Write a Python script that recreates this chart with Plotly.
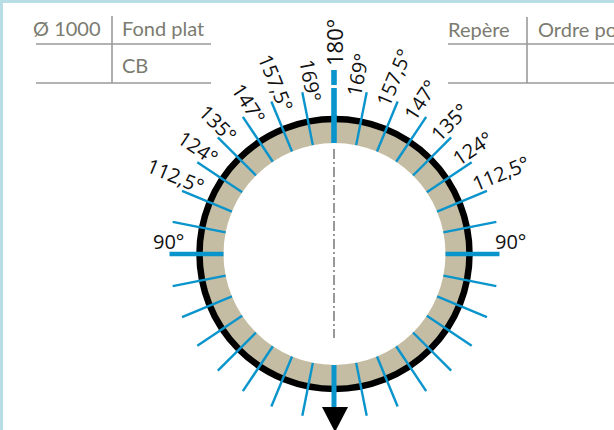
import math
import plotly.graph_objects as go

W, H = 614, 430
CX, CY = 334.5, 254
R_IN, R_RING, R_TICK = 111, 135, 165

tick_angles = [11.25 * i for i in range(1, 32) if i not in (8, 16, 24)]
major_angles = [90, 270]
top_segments = [(111, 166), (169, 184)]
bottom_segment = (111, 153)

right_labels = ["169°", "157,5°", "147°", "135°", "124°", "112,5°"]
right_pos = [(357, 75), (393, 78), (420, 100), (449, 122), (472, 148), (500, 173)]
left_pos = [(311, 80), (276, 82), (249, 103), (218, 123), (198, 147), (175, 175)]
label_rot = [79, 67.5, 57, 45, 34, 22.5]

table_text = [("Ø 1000", 67, 28), ("Fond plat", 163, 28), ("CB", 135, 65), ("Repère", 479, 29)]
table_text_clipped = [("Ordre pos", 536, 29)]
table_lines = [
    ((36, 211), (44, 44)), ((36, 211), (83, 83)), ((112, 112), (16, 83)),
    ((448, 614), (44, 44)), ((448, 614), (83, 83)), ((527, 527), (17, 83)),
]

BLUE = "#0a94cc"
fig = go.Figure()

def pol(a, r):
    t = math.radians(a)
    return CX + r * math.sin(t), CY - r * math.cos(t)

def seg(xs, ys, color, width, dash="solid"):
    fig.add_trace(go.Scatter(x=list(xs), y=list(ys), mode="lines", hoverinfo="skip",
                             line=dict(color=color, width=width, dash=dash)))

for xs, ys in table_lines:
    seg(xs, ys, "#9a9a9a", 1.6)

seg((CX - .5, CX - .5), (149, 338), "#555555", 1.2, "10px,3px,2px,3px")

for a in tick_angles:
    p, q = pol(a, R_IN), pol(a, R_TICK)
    seg((p[0], q[0]), (p[1], q[1]), BLUE, 2.4)
for a in major_angles:
    p, q = pol(a, R_IN), pol(a, R_TICK)
    seg((p[0], q[0]), (p[1], q[1]), BLUE, 4.6)
for r0, r1 in top_segments:
    p, q = pol(0, r0), pol(0, r1)
    seg((p[0] - .5, q[0] - .5), (p[1], q[1]), BLUE, 5.6)
p, q = pol(180, bottom_segment[0]), pol(180, bottom_segment[1])
seg((p[0] - .5, q[0] - .5), (p[1], q[1]), BLUE, 5)

fig.add_trace(go.Scatter(x=[322, 348, 335, 322], y=[407, 407, 432, 407], mode="lines",
                         fill="toself", fillcolor="#000000", line=dict(color="#000000", width=0),
                         hoverinfo="skip"))

def text(s, x, y, size, color, angle=0, font="Open Sans", anchor="center"):
    fig.add_annotation(x=x, y=y, text=s, showarrow=False, textangle=angle,
                       font=dict(family=font, size=size, color=color),
                       xanchor=anchor, yanchor="middle")

for s, (x, y), rot in zip(right_labels, right_pos, label_rot):
    text(s, x, y, 20, "#111111", -rot)
for s, (x, y), rot in zip(right_labels, left_pos, label_rot):
    text(s, x, y, 20, "#111111", rot)
text("180°", 334, 43, 22, "#111111", -90)
text("90°", 168, 241, 20, "#111111")
text("90°", 510, 241, 20, "#111111")
for s, x, y in table_text:
    text(s, x, y, 20, "#7b7b70", 0, "Lato")
for s, x, y in table_text_clipped:
    text(s, x, y, 20, "#7b7b70", 0, "Lato", "left")

def circle(r, **kw):
    return dict(type="circle", xref="x", yref="y", x0=CX - r, x1=CX + r,
                y0=CY - r, y1=CY + r, layer="below", **kw)

shapes = [
    dict(type="rect", xref="x", yref="y", x0=0, x1=3, y0=0, y1=H, layer="below",
         fillcolor="#b9dde5", line_width=0),
    dict(type="rect", xref="x", yref="y", x0=0, x1=W, y0=0, y1=3, layer="below",
         fillcolor="#b9dde5", line_width=0),
    circle(R_RING, fillcolor="#c4bda3", line=dict(color="#000000", width=6.5)),
    circle(R_IN, fillcolor="#ffffff", line=dict(color="#ffffff", width=0)),
]

fig.update_layout(
    width=W, height=H, margin=dict(l=0, r=0, t=0, b=0),
    paper_bgcolor="#ffffff", plot_bgcolor="#ffffff", showlegend=False, shapes=shapes,
    xaxis=dict(range=[0, W], visible=False, fixedrange=True),
    yaxis=dict(range=[H, 0], visible=False, fixedrange=True),
)
fig.write_html("out.html", config={"displayModeBar": False},
               post_script="document.body.style.margin='0';document.body.style.overflow='hidden';")
